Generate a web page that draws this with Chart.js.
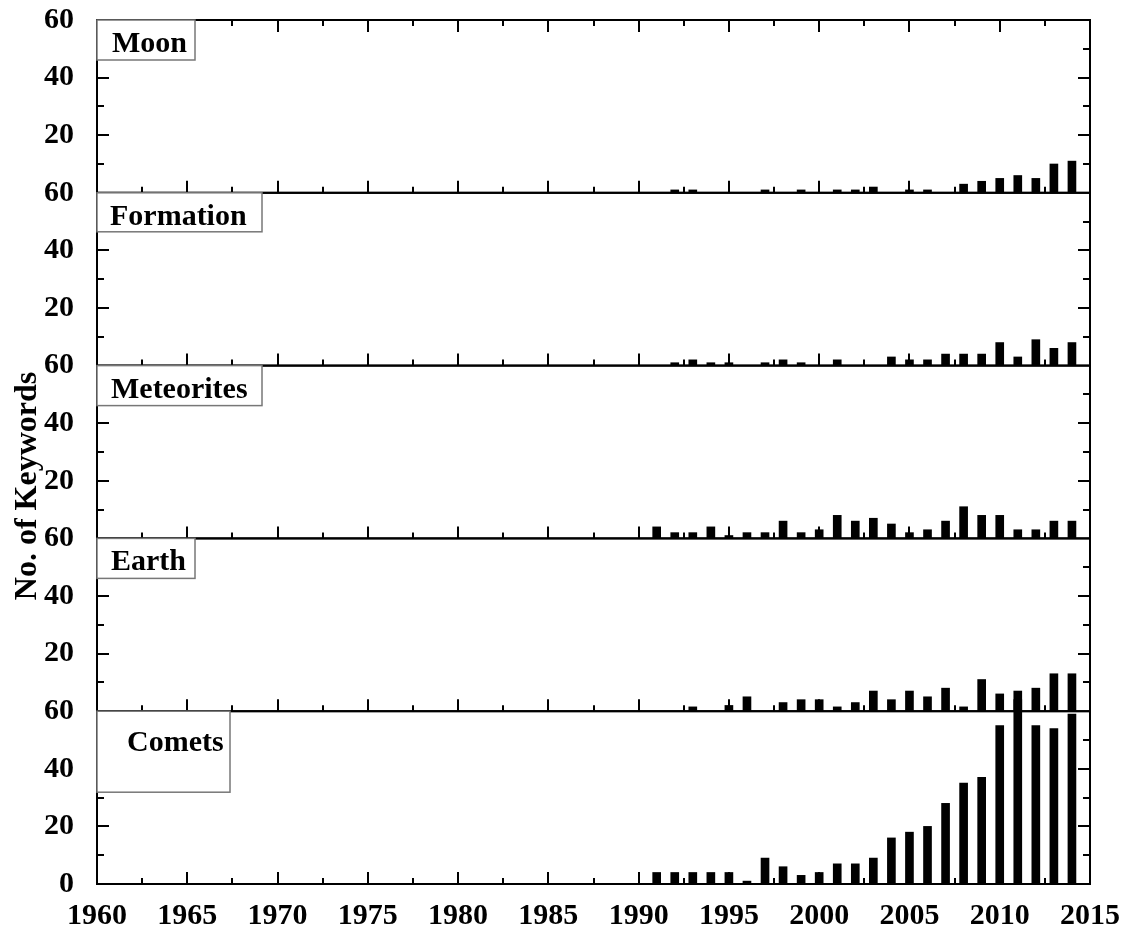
<!DOCTYPE html>
<html>
<head>
<meta charset="utf-8">
<script src="https://cdn.jsdelivr.net/npm/chart.js@4.4.1/dist/chart.umd.min.js"></script>
<style>
  html, body { margin: 0; padding: 0; background: #fff; }
  #wrap { width: 1127px; height: 930px; }
</style>
</head>
<body>
<div id="wrap"><canvas id="myChart" width="1127" height="930"></canvas></div>
<script>
// years that have bars
const years = [1991, 1992, 1993, 1994, 1995, 1996, 1997, 1998, 1999, 2000, 2001, 2002,
               2003, 2004, 2005, 2006, 2007, 2008, 2009, 2010, 2011, 2012, 2013, 2014];

const moon       = [null, 1, 1, null, null, null, 1, null, 1, null, 1, 1,
                    2, null, 1, 1, null, 3, 4, 5, 6, 5, 10, 11];
const formation  = [null, 1, 2, 1, 1, null, 1, 2, 1, null, 2, null,
                    null, 3, 2, 2, 4, 4, 4, 8, 3, 9, 6, 8];
const meteorites = [4, 2, 2, 4, 1, 2, 2, 6, 2, 3, 8, 6,
                    7, 5, 2, 3, 6, 11, 8, 8, 3, 3, 6, 6];
const earth      = [null, null, 1.5, null, 2, 5, null, 3, 4, 4, 1.5, 3,
                    7, 4, 7, 5, 8, 1.5, 11, 6, 7, 8, 13, 13];
const comets     = [4, 4, 4, 4, 4, 1, 9, 6, 3, 4, 7, 7,
                    9, 16, 18, 20, 28, 35, 37, 55, 64, 55, 54, 59];

// panels listed bottom to top
const panelNames = ["Comets", "Earth", "Meteorites", "Formation", "Moon"];
const panelValues = [comets, earth, meteorites, formation, moon];

const yearTicks = [1960, 1965, 1970, 1975, 1980, 1985, 1990, 1995, 2000, 2005, 2010, 2015];
const countTicks = [0, 20, 40, 60];
const yTitle = "No. of Keywords";

const serif = '"Liberation Serif", "Times New Roman", serif';
const tickFont = { family: serif, size: 30, weight: "bold" };

// label box sizes, bottom to top (w, h, text x offset, text baseline offset)
const boxes = [
  { w: 133, h: 81, tx: 30, ty: 40 },
  { w: 98, h: 40, tx: 14, ty: 32 },
  { w: 165, h: 40, tx: 14, ty: 32 },
  { w: 165, h: 39, tx: 13, ty: 32 },
  { w: 98, h: 40, tx: 15, ty: 32 }
];

const scales = {
  x: {
    type: "linear",
    position: "bottom",
    min: 1960,
    max: 2015,
    offset: false,
    grid: { display: false },
    border: { display: false },
    afterBuildTicks: s => { s.ticks = yearTicks.map(v => ({ value: v })); },
    ticks: {
      padding: 6, autoSkip: false, maxRotation: 0, color: "#000",
      font: tickFont, callback: v => String(v)
    },
    afterFit: s => { s.height = 46; s.paddingLeft = 0; s.paddingRight = 0; }
  }
};

panelNames.forEach((name, i) => {
  scales["y" + i] = {
    type: "linear",
    position: "left",
    stack: "panels",
    stackWeight: 1,
    offset: false,
    min: 0,
    max: 60,
    grid: { display: false },
    border: { display: false },
    afterBuildTicks: s => { s.ticks = countTicks.map(v => ({ value: v })); },
    ticks: {
      padding: 15, autoSkip: false, color: "#000", font: tickFont,
      callback: v => (v === 0 && i > 0) ? "" : String(v)
    },
    afterFit: s => { s.width = 97; s.paddingTop = 0; s.paddingBottom = 0; }
  };
});

const datasets = panelValues.map((vals, i) => ({
  label: panelNames[i],
  data: years.map((yr, j) => ({ x: yr, y: vals[j] })),
  xAxisID: "x",
  yAxisID: "y" + i,
  backgroundColor: "#000",
  barThickness: 8,
  grouped: false,
  clip: false
}));

function line(ctx, x1, y1, x2, y2) {
  ctx.beginPath();
  ctx.moveTo(x1, y1);
  ctx.lineTo(x2, y2);
  ctx.stroke();
}

// frames, inward ticks, panel name boxes and the y title
const framePlugin = {
  id: "frames",
  afterDraw(chart) {
    const ctx = chart.ctx;
    const area = chart.chartArea;
    const xs = chart.scales.x;
    ctx.save();
    panelNames.forEach((name, i) => {
      const ys = chart.scales["y" + i];
      const top = ys.top, bottom = ys.bottom;
      ctx.strokeStyle = "#000";
      ctx.lineWidth = 2;
      ctx.strokeRect(area.left, top, area.right - area.left, bottom - top);
      for (let v = 1962.5; v < 2015; v += 2.5) {
        const px = Math.round(xs.getPixelForValue(v));
        const len = v % 5 === 0 ? 12 : 6;
        line(ctx, px, bottom, px, bottom - len);
        if (i === panelNames.length - 1) line(ctx, px, top, px, top + len);
      }
      for (let v = 10; v < 60; v += 10) {
        const py = Math.round(ys.getPixelForValue(v));
        const len = v % 20 === 0 ? 12 : 7;
        line(ctx, area.left, py, area.left + len, py);
        line(ctx, area.right, py, area.right - len, py);
      }
    });
    panelNames.forEach((name, i) => {
      const ys = chart.scales["y" + i];
      const b = boxes[i];
      ctx.fillStyle = "#fff";
      ctx.fillRect(area.left, ys.top, b.w, b.h);
      ctx.strokeStyle = "#777";
      ctx.lineWidth = 1.5;
      ctx.strokeRect(area.left, ys.top, b.w, b.h);
      ctx.fillStyle = "#000";
      ctx.font = "bold 30px " + serif;
      ctx.textAlign = "left";
      ctx.textBaseline = "alphabetic";
      ctx.fillText(name, area.left + b.tx, ys.top + b.ty);
    });
    ctx.translate(28, 486);
    ctx.rotate(-Math.PI / 2);
    ctx.font = "bold 32px " + serif;
    ctx.textAlign = "center";
    ctx.textBaseline = "middle";
    ctx.fillStyle = "#000";
    ctx.fillText(yTitle, 0, 0);
    ctx.restore();
  }
};

const ctx = document.getElementById("myChart").getContext("2d");
const chart = new Chart(ctx, {
  type: "bar",
  data: { datasets: datasets },
  options: {
    responsive: false,
    animation: false,
    devicePixelRatio: 1,
    layout: { padding: { top: 20, right: 37, left: 0, bottom: 0 } },
    scales: scales,
    plugins: {
      legend: { display: false },
      tooltip: { enabled: false }
    }
  },
  plugins: [framePlugin]
});
</script>
</body>
</html>
